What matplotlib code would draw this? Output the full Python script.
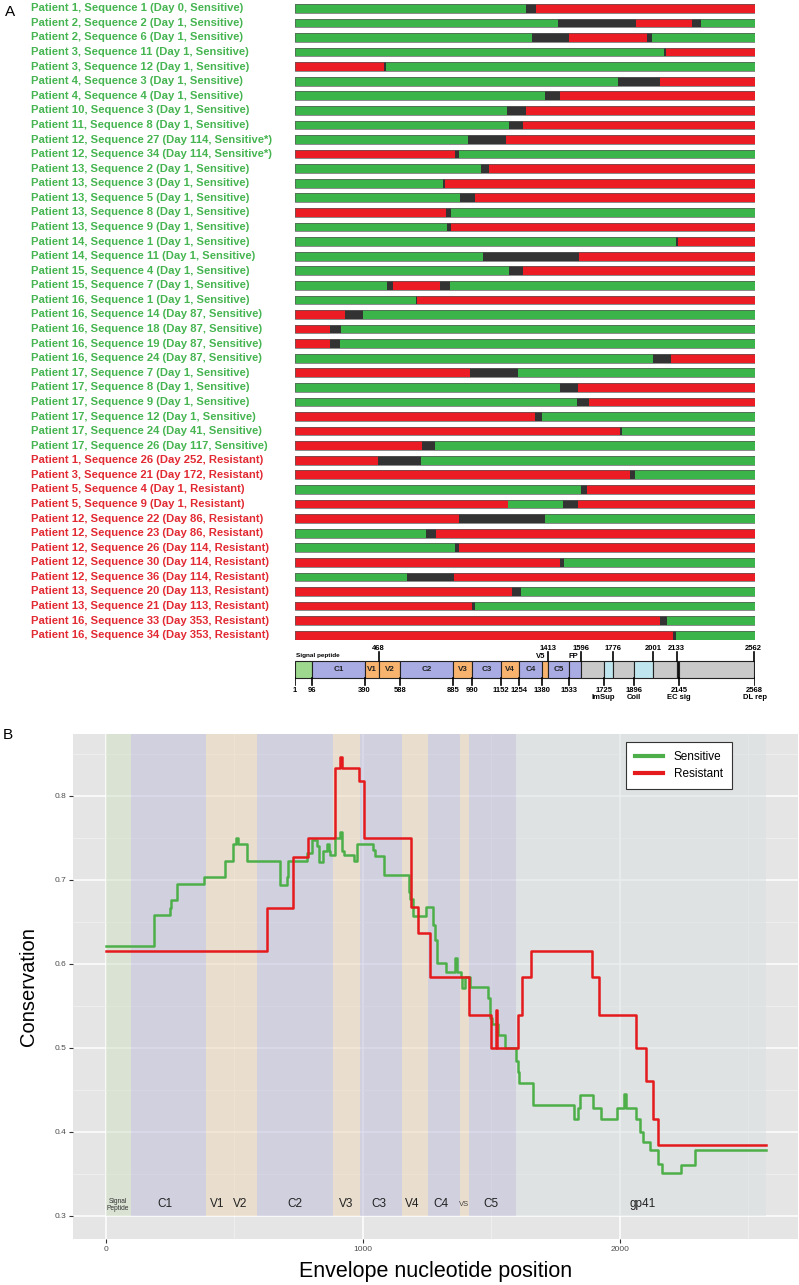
import numpy as np
import matplotlib
matplotlib.use("Agg")
import matplotlib.pyplot as plt
from matplotlib.lines import Line2D

plt.rcParams['font.family'] = ['Liberation Sans', 'DejaVu Sans']

W, H = 799, 1285

# ---------------- panel A data ----------------
labels = [
    "Patient 1, Sequence 1 (Day 0, Sensitive)",
    "Patient 2, Sequence 2 (Day 1, Sensitive)",
    "Patient 2, Sequence 6 (Day 1, Sensitive)",
    "Patient 3, Sequence 11 (Day 1, Sensitive)",
    "Patient 3, Sequence 12 (Day 1, Sensitive)",
    "Patient 4, Sequence 3 (Day 1, Sensitive)",
    "Patient 4, Sequence 4 (Day 1, Sensitive)",
    "Patient 10, Sequence 3 (Day 1, Sensitive)",
    "Patient 11, Sequence 8 (Day 1, Sensitive)",
    "Patient 12, Sequence 27 (Day 114, Sensitive*)",
    "Patient 12, Sequence 34 (Day 114, Sensitive*)",
    "Patient 13, Sequence 2 (Day 1, Sensitive)",
    "Patient 13, Sequence 3 (Day 1, Sensitive)",
    "Patient 13, Sequence 5 (Day 1, Sensitive)",
    "Patient 13, Sequence 8 (Day 1, Sensitive)",
    "Patient 13, Sequence 9 (Day 1, Sensitive)",
    "Patient 14, Sequence 1 (Day 1, Sensitive)",
    "Patient 14, Sequence 11 (Day 1, Sensitive)",
    "Patient 15, Sequence 4 (Day 1, Sensitive)",
    "Patient 15, Sequence 7 (Day 1, Sensitive)",
    "Patient 16, Sequence 1 (Day 1, Sensitive)",
    "Patient 16, Sequence 14 (Day 87, Sensitive)",
    "Patient 16, Sequence 18 (Day 87, Sensitive)",
    "Patient 16, Sequence 19 (Day 87, Sensitive)",
    "Patient 16, Sequence 24 (Day 87, Sensitive)",
    "Patient 17, Sequence 7 (Day 1, Sensitive)",
    "Patient 17, Sequence 8 (Day 1, Sensitive)",
    "Patient 17, Sequence 9 (Day 1, Sensitive)",
    "Patient 17, Sequence 12 (Day 1, Sensitive)",
    "Patient 17, Sequence 24 (Day 41, Sensitive)",
    "Patient 17, Sequence 26 (Day 117, Sensitive)",
    "Patient 1, Sequence 26 (Day 252, Resistant)",
    "Patient 3, Sequence 21 (Day 172, Resistant)",
    "Patient 5, Sequence 4 (Day 1, Resistant)",
    "Patient 5, Sequence 9 (Day 1, Resistant)",
    "Patient 12, Sequence 22 (Day 86, Resistant)",
    "Patient 12, Sequence 23 (Day 86, Resistant)",
    "Patient 12, Sequence 26 (Day 114, Resistant)",
    "Patient 12, Sequence 30 (Day 114, Resistant)",
    "Patient 12, Sequence 36 (Day 114, Resistant)",
    "Patient 13, Sequence 20 (Day 113, Resistant)",
    "Patient 13, Sequence 21 (Day 113, Resistant)",
    "Patient 16, Sequence 33 (Day 353, Resistant)",
    "Patient 16, Sequence 34 (Day 353, Resistant)",
]

# each row: (segment colour code, segment end position); G=sensitive-like, R=resistant-like, D=undetermined
segments = [
    [("G", 1290), ("D", 1345), ("R", 2568)],
    [("G", 1472), ("D", 1907), ("R", 2216), ("D", 2270), ("G", 2568)],
    [("G", 1323), ("D", 1532), ("R", 1969), ("D", 1997), ("G", 2568)],
    [("G", 2060), ("D", 2071), ("R", 2568)],
    [("R", 499), ("D", 510), ("G", 2568)],
    [("G", 1803), ("D", 2038), ("R", 2568)],
    [("G", 1396), ("D", 1479), ("R", 2568)],
    [("G", 1184), ("D", 1290), ("R", 2568)],
    [("G", 1198), ("D", 1277), ("R", 2568)],
    [("G", 966), ("D", 1180), ("R", 2568)],
    [("R", 893), ("D", 917), ("G", 2568)],
    [("G", 1042), ("D", 1083), ("R", 2568)],
    [("G", 828), ("D", 837), ("R", 2568)],
    [("G", 925), ("D", 1009), ("R", 2568)],
    [("R", 847), ("D", 875), ("G", 2568)],
    [("G", 849), ("D", 875), ("R", 2568)],
    [("G", 2131), ("D", 2142), ("R", 2568)],
    [("G", 1051), ("D", 1589), ("R", 2568)],
    [("G", 1197), ("D", 1277), ("R", 2568)],
    [("G", 515), ("D", 551), ("R", 810), ("D", 865), ("G", 2568)],
    [("G", 679), ("D", 685), ("R", 2568)],
    [("R", 281), ("D", 383), ("G", 2568)],
    [("R", 194), ("D", 259), ("G", 2568)],
    [("R", 194), ("D", 253), ("G", 2568)],
    [("G", 2002), ("D", 2099), ("R", 2568)],
    [("R", 979), ("D", 1247), ("G", 2568)],
    [("G", 1481), ("D", 1584), ("R", 2568)],
    [("G", 1578), ("D", 1643), ("R", 2568)],
    [("R", 1344), ("D", 1379), ("G", 2568)],
    [("R", 1814), ("D", 1826), ("G", 2568)],
    [("R", 711), ("D", 783), ("G", 2568)],
    [("R", 467), ("D", 702), ("G", 2568)],
    [("R", 1870), ("D", 1900), ("G", 2568)],
    [("G", 1599), ("D", 1634), ("R", 2568)],
    [("R", 1189), ("G", 1498), ("D", 1584), ("R", 2568)],
    [("R", 917), ("D", 1398), ("G", 2568)],
    [("G", 730), ("D", 787), ("R", 2568)],
    [("G", 893), ("D", 916), ("R", 2568)],
    [("R", 1479), ("D", 1502), ("G", 2568)],
    [("G", 627), ("D", 890), ("R", 2568)],
    [("R", 1212), ("D", 1262), ("G", 2568)],
    [("R", 990), ("D", 1007), ("G", 2568)],
    [("R", 2042), ("D", 2081), ("G", 2568)],
    [("R", 2112), ("D", 2131), ("G", 2568)],
]

# envelope map
map_start = [1, 96, 390, 468, 588, 885, 990, 1152, 1254, 1380, 1413, 1533, 1596, 1725, 1776, 1896, 2001, 2133, 2145]
map_end = [96, 390, 468, 588, 885, 990, 1152, 1254, 1380, 1413, 1533, 1596, 1725, 1776, 1896, 2001, 2133, 2145, 2562]
map_kind = ["sig", "C", "V", "V", "C", "V", "C", "V", "C", "V", "C", "C", "g", "b", "g", "b", "g", "k", "g"]
map_name = ["", "C1", "V1", "V2", "C2", "V3", "C3", "V4", "C4", "", "C5", "", "", "", "", "", "", "", ""]
ticks_below = [1, 96, 390, 588, 885, 990, 1152, 1254, 1380, 1533, 1725, 1896, 2145, 2568]
ticks_above = [468, 1413, 1596, 1776, 2001, 2133, 2562]
sub_labels = {1725: "ImSup", 1896: "Coil", 2145: "EC sig", 2568: "DL rep"}

# ---------------- panel B data ----------------
sens_x = [0, 189, 250, 255, 276, 380, 463, 494, 507, 513, 549, 676, 679, 704, 709, 782, 804, 820, 831,
          847, 860, 868, 873, 892, 912, 921, 925, 964, 977, 1039, 1048, 1083, 1179, 1184, 1195, 1247,
          1275, 1281, 1288, 1322, 1360, 1365, 1382, 1388, 1398, 1417, 1489, 1496, 1502, 1528, 1554,
          1597, 1603, 1609, 1664, 1823, 1839, 1845, 1897, 1927, 1990, 2018, 2023, 2062, 2079, 2092,
          2118, 2150, 2166, 2237, 2293, 2568]
sens_y = [0.622, 0.658, 0.667, 0.676, 0.695, 0.703, 0.723, 0.743, 0.750, 0.743, 0.7225, 0.714, 0.694,
          0.703, 0.7225, 0.732, 0.748, 0.740, 0.722, 0.735, 0.743, 0.735, 0.730, 0.750, 0.757, 0.735,
          0.730, 0.723, 0.743, 0.736, 0.728, 0.706, 0.686, 0.677, 0.657, 0.668, 0.647, 0.629, 0.601,
          0.590, 0.607, 0.590, 0.584, 0.572, 0.584, 0.573, 0.559, 0.536, 0.529, 0.515, 0.500, 0.484,
          0.472, 0.458, 0.432, 0.416, 0.428, 0.444, 0.428, 0.416, 0.428, 0.445, 0.428, 0.416, 0.400,
          0.388, 0.378, 0.362, 0.351, 0.361, 0.378, 0.378]

res_x = [0, 627, 728, 785, 890, 913, 918, 987, 1005, 1188, 1213, 1262, 1415, 1499, 1517, 1521, 1603,
         1619, 1654, 1893, 1921, 2062, 2101, 2131, 2148, 2568]
res_y = [0.615, 0.667, 0.727, 0.750, 0.833, 0.847, 0.833, 0.818, 0.750, 0.668, 0.637, 0.584, 0.539,
         0.500, 0.545, 0.500, 0.539, 0.584, 0.615, 0.584, 0.539, 0.500, 0.461, 0.416, 0.385, 0.385]

region_start = [0, 96, 390, 588, 885, 990, 1152, 1254, 1380, 1413, 1596]
region_end = [96, 390, 588, 885, 990, 1152, 1254, 1380, 1413, 1596, 2568]
region_kind = ["sig", "C", "V", "C", "V", "C", "V", "C", "V", "C", "gp"]
region_text = ["Signal\nPeptide", "C1", "V1", "V2", "C2", "V3", "C3", "V4", "C4", "V5", "C5", "gp41"]
region_text_x = [45, 230, 432, 522, 734, 934, 1061, 1193, 1305, 1396, 1499, 2088]

# ---------------- drawing ----------------
GREEN, RED, DARK = "#3BB54A", "#EC1C24", "#333333"
seg_col = {"G": GREEN, "R": RED, "D": DARK}
TXT_G, TXT_R = "#46B551", "#E22A33"


def px_axes(x0, y0, x1, y1):
    return fig.add_axes([x0 / W, 1 - y1 / H, (x1 - x0) / W, (y1 - y0) / H])


fig = plt.figure(figsize=(W / 100, H / 100), dpi=100)

# panel A: bars
axA = px_axes(295, 0, 755, 640)
row_gap = 14.58
y_top = -8.3 / row_gap
axA.set_xlim(1, 2570)
axA.set_ylim((640 - 8.3) / row_gap, y_top)
axA.axis("off")
for i, (lab, segs) in enumerate(zip(labels, segments)):
    start = 1
    for code, end in segs:
        axA.barh(i, end - start, left=start, height=0.6, color=seg_col[code], linewidth=0)
        start = end
    axA.barh(i, 2568 - 1, left=1, height=0.6, facecolor="none", edgecolor="#5a5a5a", linewidth=0.5)
    col = TXT_R if "Resistant" in lab else TXT_G
    axA.text(-0.574, i, lab, transform=axA.get_yaxis_transform(), ha="left", va="center",
             fontsize=8.1, fontweight="bold", color=col)

# envelope map
axM = px_axes(295, 640, 755, 705)
axM.set_xlim(1, 2570)
axM.set_ylim(65, 0)
axM.axis("off")
map_col = {"sig": "#9ED88E", "C": "#A9ABE3", "V": "#F8B46E", "g": "#C9C9C9", "b": "#BFE6EE", "k": "#111111"}
for s, e, k, n in zip(map_start, map_end, map_kind, map_name):
    axM.bar(s, 17, width=e - s, bottom=21, align="edge", color=map_col[k], edgecolor="#222222", linewidth=0.8)
    if n:
        axM.text((s + e) / 2, 29.5, n, ha="center", va="center", fontsize=5.8, fontweight="bold", color="#222222")
for t in ticks_below:
    axM.plot([t, t], [38, 45], color="black", lw=1.2)
    axM.text(t, 50, str(t), ha="center", va="center", fontsize=5.5, fontweight="bold")
    if t in sub_labels:
        axM.text(t, 57, sub_labels[t], ha="center", va="center", fontsize=5.5, fontweight="bold")
for t in ticks_above:
    axM.plot([t, t], [12, 21], color="black", lw=1.2)
    axM.text(t, 8, str(t), ha="center", va="center", fontsize=5.5, fontweight="bold")
axM.text(1413 - 12, 16, "V5", ha="right", va="center", fontsize=5.5, fontweight="bold")
axM.text(1596 - 12, 16, "FP", ha="right", va="center", fontsize=5.5, fontweight="bold")
axM.text(5, 15, "Signal peptide", ha="left", va="center", fontsize=4.6, fontweight="bold")

fig.text(5 / W, 1 - 12 / H, "A", fontsize=11, ha="left", va="center")
fig.text(3 / W, 1 - 735 / H, "B", fontsize=11, ha="left", va="center")

# panel B
axB = px_axes(73, 734, 798, 1239)
axB.set_facecolor("#E5E5E5")
axB.set_xlim(-128, 2694)
axB.set_ylim(0.2726, 0.8738)
for sp in axB.spines.values():
    sp.set_visible(False)
axB.set_xticks([0, 1000, 2000])
axB.set_xticks([500, 1500, 2500], minor=True)
axB.set_yticks([0.3, 0.4, 0.5, 0.6, 0.7, 0.8])
axB.set_yticks([0.35, 0.45, 0.55, 0.65, 0.75, 0.85], minor=True)
axB.grid(True, which="major", color="white", lw=1.1)
axB.grid(True, which="minor", color="#F2F2F2", lw=0.5)
axB.set_axisbelow(True)
axB.tick_params(which="major", length=3, color="#333333", labelsize=6, labelcolor="#4D4D4D", pad=2)
axB.tick_params(which="minor", length=0)

band_col = {"sig": "#D1E1C7", "C": "#BFBFDB", "V": "#EDD7BB", "gp": "#D9E1E1"}
for s, e, k in zip(region_start, region_end, region_kind):
    axB.bar(s, 0.8738 - 0.3, width=e - s, bottom=0.3, align="edge", color=band_col[k], alpha=0.55,
            linewidth=0, zorder=1.5)
for txt, xx in zip(region_text, region_text_x):
    if txt.startswith("Signal"):
        axB.text(xx, 0.3135, txt, ha="center", va="center", fontsize=4.8, color="#333333", linespacing=1.0, zorder=3)
    elif txt == "V5":
        axB.text(xx, 0.3135, "VS", ha="center", va="center", fontsize=5.5, color="#444444", zorder=3)
    else:
        axB.text(xx, 0.3145, txt, ha="center", va="center", fontsize=8.5, color="#222222", zorder=3)

axB.step(sens_x, sens_y, where="post", color="#4DAF4A", lw=1.8, zorder=4)
axB.step(res_x, res_y, where="post", color="#E41A1C", lw=1.8, zorder=5)

axB.set_xlabel("Envelope nucleotide position", fontsize=15.5, labelpad=6)
axB.set_ylabel("Conservation", fontsize=14.5, labelpad=12)

handles = [Line2D([0], [0], color="#4DAF4A", lw=3), Line2D([0], [0], color="#E41A1C", lw=3)]
leg = axB.legend(handles, ["Sensitive", "Resistant"], loc="upper left", bbox_to_anchor=(0.763, 0.984),
                 fontsize=8.5, frameon=True, fancybox=False, edgecolor="#333333", framealpha=1,
                 handlelength=2.4, borderpad=0.75, labelspacing=0.45, handletextpad=0.9, borderaxespad=0)
leg.get_frame().set_linewidth(0.8)
leg.set_zorder(10)

fig.savefig("out.png", dpi=100)
